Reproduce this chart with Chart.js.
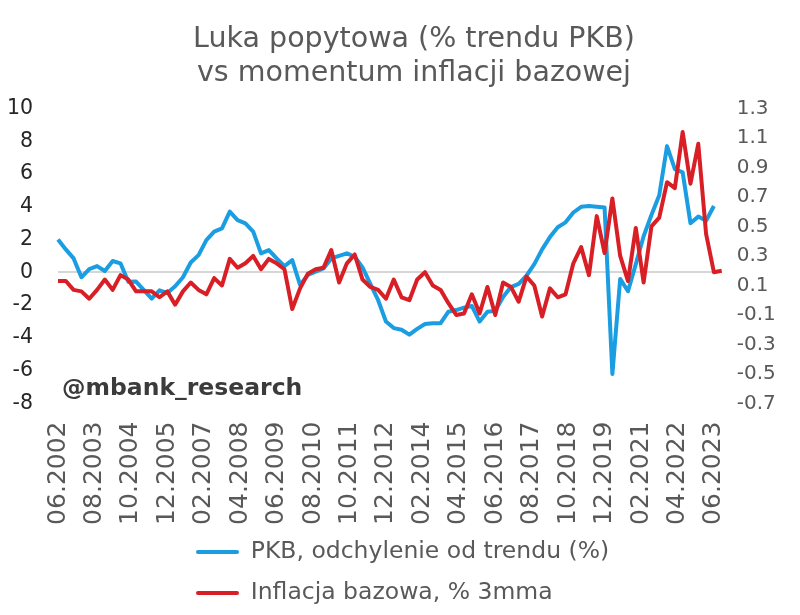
<!DOCTYPE html>
<html>
<head>
<meta charset="utf-8">
<script src="https://cdn.jsdelivr.net/npm/chart.js@4.4.1/dist/chart.umd.min.js"></script>
<style>
  html, body { margin: 0; padding: 0; background: #fff; }
</style>
</head>
<body>
<canvas id="canvas" width="800" height="615"></canvas>
<script>
// quarterly observations, first one is 06.2002
var gdpGap = [
  2.0, 1.4, 0.85, -0.3, 0.2, 0.38, 0.08, 0.69, 0.55, -0.57,
  -0.56, -1.08, -1.6, -1.1, -1.26, -0.85, -0.3, 0.6, 1.05, 1.97,
  2.48, 2.68, 3.7, 3.19, 2.99, 2.48, 1.16, 1.36, 0.85, 0.38,
  0.75, -0.77, -0.16, 0.04, 0.24, 0.85, 1.0, 1.16, 0.95, 0.3,
  -0.7, -1.7, -3.0, -3.4, -3.5, -3.8, -3.45, -3.15, -3.1, -3.1,
  -2.4, -2.3, -2.15, -2.05, -3.0, -2.4, -2.35, -1.5, -0.9, -0.7,
  -0.2, 0.5, 1.4, 2.15, 2.75, 3.05, 3.65, 4.0, 4.05, 4.0,
  3.95, -6.2, -0.4, -1.15, 0.5, 2.2, 3.5, 4.7, 7.7, 6.3,
  6.1, 3.0, 3.4, 3.15, 4.05
];
var coreInflation = [
  0.13, 0.13, 0.07, 0.06, 0.01, 0.07, 0.14, 0.07, 0.17, 0.14,
  0.06, 0.06, 0.06, 0.02, 0.06, -0.03, 0.06, 0.12, 0.07, 0.04,
  0.15, 0.10, 0.28, 0.22, 0.25, 0.30, 0.21, 0.28, 0.25, 0.21,
  -0.06, 0.08, 0.18, 0.21, 0.22, 0.34, 0.12, 0.25, 0.31, 0.14,
  0.09, 0.07, 0.01, 0.14, 0.02, 0.0, 0.14, 0.19, 0.10, 0.07,
  -0.02, -0.10, -0.09, 0.04, -0.09, 0.09, -0.10, 0.12, 0.09, -0.01,
  0.16, 0.10, -0.11, 0.08, 0.02, 0.04, 0.25, 0.36, 0.17, 0.57,
  0.32, 0.69, 0.30, 0.13, 0.49, 0.12, 0.50, 0.56, 0.80, 0.76,
  1.14, 0.79, 1.06, 0.45, 0.19, 0.20
];
var seriesNames = ['PKB, odchylenie od trendu (%)', 'Inflacja bazowa, % 3mma'];
var titleLines = ['Luka popytowa (% trendu PKB)', 'vs momentum inflacji bazowej'];

// monthly date axis 06.2002 - 09.2023, a label every 14 months
var months = [];
for (var y = 2002, m = 6; months.length < 256; m++) {
  if (m > 12) { m = 1; y++; }
  months.push((m < 10 ? '0' + m : '' + m) + '.' + y);
}

function toMonthly(q) {
  return months.map(function(_, i) {
    return (i % 3 === 0 && i / 3 < q.length) ? q[i / 3] : null;
  });
}

var BLUE = '#1b9de2';
var RED = '#d91f26';
var FONT = "'DejaVu Sans', 'Verdana', sans-serif";

var tweaks = {
  id: 'tweaks',
  afterLayout: function(chart) {
    var t = chart.titleBlock;
    t.left += 14; t.right += 14;
    var lg = chart.legend;
    var w = lg.width, h = lg.height;
    lg.left = 196 - 17.6;
    lg.top = 522.6;
    lg.right = lg.left + w;
    lg.bottom = lg.top + h;
  },
  afterDraw: function(chart) {
    var ctx = chart.ctx;
    ctx.save();
    ctx.font = "bold 23.5px " + FONT;
    ctx.fillStyle = '#3b3b3b';
    ctx.textBaseline = 'middle';
    ctx.fillText('@mbank_research', 62, 389);
    ctx.restore();
  }
};

Chart.defaults.font.family = FONT;

var ctx = document.getElementById('canvas').getContext('2d');
new Chart(ctx, {
  type: 'line',
  data: {
    labels: months,
    datasets: [{
      label: seriesNames[0],
      data: toMonthly(gdpGap),
      yAxisID: 'y',
      borderColor: BLUE,
      backgroundColor: BLUE,
      borderWidth: 4,
      pointRadius: 0,
      spanGaps: true,
      borderJoinStyle: 'round',
      order: 1
    }, {
      label: seriesNames[1],
      data: toMonthly(coreInflation),
      yAxisID: 'y1',
      borderColor: RED,
      backgroundColor: RED,
      borderWidth: 4,
      pointRadius: 0,
      spanGaps: true,
      borderJoinStyle: 'round',
      order: 0
    }]
  },
  options: {
    responsive: false,
    animation: false,
    layout: { padding: 0 },
    plugins: {
      title: {
        display: true,
        text: titleLines,
        color: '#595959',
        font: { size: 28.5, weight: 'normal', lineHeight: 1.2 },
        padding: { top: 22, bottom: 18 }
      },
      legend: {
        position: 'chartArea',
        align: 'start',
        labels: {
          color: '#595959',
          font: { size: 23.5 },
          boxWidth: 43,
          boxHeight: 4,
          padding: 17.6,
          generateLabels: function(chart) {
            var items = Chart.defaults.plugins.legend.labels.generateLabels(chart);
            items.forEach(function(it) { it.lineWidth = 0; it.borderRadius = 2; });
            return items.sort(function(a, b) { return a.datasetIndex - b.datasetIndex; });
          }
        }
      },
      tooltip: { enabled: false }
    },
    scales: {
      x: {
        type: 'category',
        offset: false,
        grid: { display: false },
        border: { display: false },
        ticks: {
          autoSkip: false,
          minRotation: 90,
          maxRotation: 90,
          padding: 10,
          color: '#595959',
          font: { size: 25 },
          callback: function(v, i) { return i % 14 === 0 ? months[i] : null; }
        },
        afterFit: function(s) { s.height = 615 - 403.5; }
      },
      y: {
        position: 'left',
        min: -8,
        max: 10,
        ticks: { stepSize: 2, padding: 25, color: '#262626', font: { size: 20.5 } },
        grid: {
          drawTicks: false,
          lineWidth: 2,
          color: function(c) { return c.tick && c.tick.value === 0 ? '#d6d6d6' : 'rgba(0,0,0,0)'; }
        },
        border: { display: false },
        afterFit: function(s) { s.width = 58; }
      },
      y1: {
        position: 'right',
        min: -0.7,
        max: 1.3,
        ticks: {
          stepSize: 0.2,
          padding: 15,
          color: '#595959',
          font: { size: 20 },
          callback: function(v) { return v.toFixed(1); }
        },
        grid: { display: false, drawTicks: false },
        border: { display: false },
        afterFit: function(s) { s.width = 800 - 721.7; }
      }
    }
  },
  plugins: [tweaks]
});
</script>
</body>
</html>
